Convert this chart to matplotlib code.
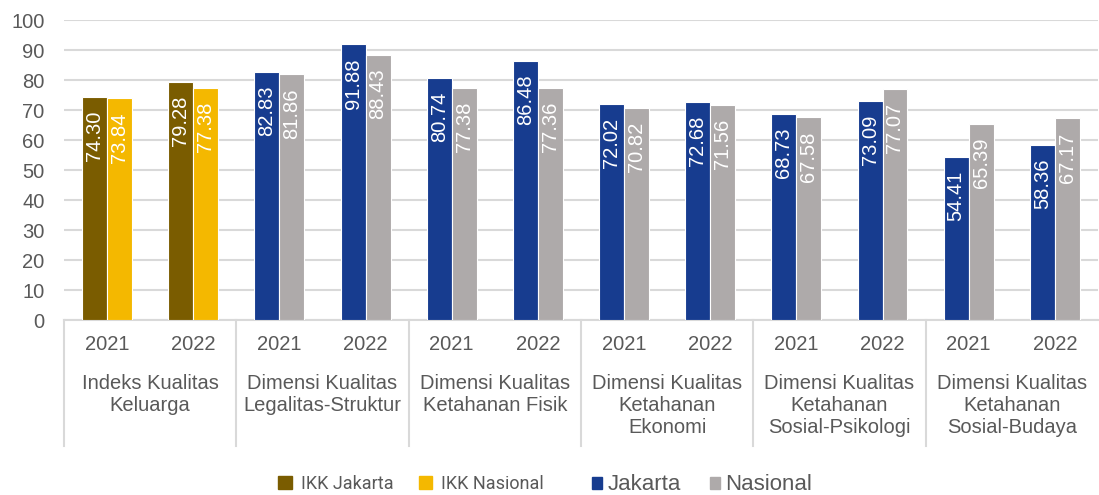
import numpy as np
import matplotlib.pyplot as plt
from matplotlib.patches import Patch

categories = ["Indeks Kualitas\nKeluarga", "Dimensi Kualitas\nLegalitas-Struktur",
              "Dimensi Kualitas\nKetahanan Fisik", "Dimensi Kualitas\nKetahanan\nEkonomi",
              "Dimensi Kualitas\nKetahanan\nSosial-Psikologi", "Dimensi Kualitas\nKetahanan\nSosial-Budaya"]
years = ["2021", "2022"]
jakarta = [74.30, 79.28, 82.83, 91.88, 80.74, 86.48, 72.02, 72.68, 68.73, 73.09, 54.41, 58.36]
nasional = [73.84, 77.38, 81.86, 88.43, 77.38, 77.36, 70.82, 71.56, 67.58, 77.07, 65.39, 67.17]

TXT = "#595959"
GRID = "#D9D9D9"
c_jak = ["#7A5C00"] * 2 + ["#173C8F"] * 10
c_nas = ["#F4B800"] * 2 + ["#AEAAAA"] * 10

plt.rcParams['font.family'] = ['Liberation Sans', 'DejaVu Sans']

fig = plt.figure(figsize=(10.99, 4.95), dpi=100)
ax = fig.add_axes([64 / 1099, 1 - 320 / 495, 1 - 64 / 1099 - 0.001, 300 / 495])

x = np.arange(len(jakarta))
w = 0.29
b1 = ax.bar(x - w / 2, jakarta, w, color=c_jak, edgecolor="white", linewidth=0.8, zorder=3)
b2 = ax.bar(x + w / 2, nasional, w, color=c_nas, edgecolor="white", linewidth=0.8, zorder=3)

# value labels, inside end of each bar
for bars, vals in [(b1, jakarta), (b2, nasional)]:
    for b, v in zip(bars, vals):
        ax.annotate(f"{v:.2f}", (b.get_x() + b.get_width() / 2, v), xytext=(0, -10),
                    textcoords="offset points", rotation=90, ha="center", va="top",
                    color="white", fontsize=14.5, zorder=4)

ax.set_xlim(-0.5, len(x) - 0.5)
ax.set_ylim(0, 100)
ax.set_yticks(range(0, 101, 10))
ax.yaxis.grid(True, color=GRID, linewidth=1.5, zorder=0)
ax.tick_params(axis="y", length=0, pad=14, labelsize=14.5, labelcolor=TXT)
ax.set_xticks([])
for s in ["top", "right", "left"]:
    ax.spines[s].set_visible(False)
ax.spines["bottom"].set_color(GRID)
ax.spines["bottom"].set_linewidth(1.5)

# two-level x axis: years, then category names with dividers
trans = ax.get_xaxis_transform()
for i in x:
    ax.text(i, -25 / 300, years[i % 2], transform=trans, ha="center", va="center",
            fontsize=14.5, color=TXT)
for k, cat in enumerate(categories):
    ax.text(2 * k + 0.5, -54 / 300, cat, transform=trans, ha="center", va="top",
            fontsize=14.5, color=TXT, linespacing=1.2)
for k in range(len(categories)):
    ax.plot([2 * k - 0.5] * 2, [0, -126 / 300], transform=trans, color=GRID,
            linewidth=1.5, clip_on=False)

small = [Patch(color="#7A5C00", label="IKK Jakarta"), Patch(color="#F4B800", label="IKK Nasional")]
big = [Patch(color="#173C8F", label="Jakarta"), Patch(color="#AEAAAA", label="Nasional")]
fig.legend(handles=small, loc="center left", bbox_to_anchor=(262 / 1099, 1 - 484 / 495), ncol=2,
           frameon=False, prop={"family": "Roboto", "size": 13}, labelcolor=TXT,
           handlelength=0.75, handleheight=0.75, handletextpad=0.5, columnspacing=1.4)
fig.legend(handles=big, loc="center left", bbox_to_anchor=(572 / 1099, 1 - 485 / 495), ncol=2,
           frameon=False, fontsize=16, labelcolor=TXT,
           handlelength=0.45, handleheight=0.45, handletextpad=0.25, columnspacing=1.3)

fig.savefig("out.png", dpi=100)
